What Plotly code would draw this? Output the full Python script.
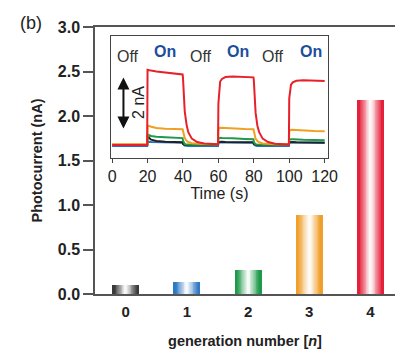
import plotly.graph_objects as go

# ---------------- data ----------------
generations = [0, 1, 2, 3, 4]
gen_labels = ["0", "1", "2", "3", "4"]
photocurrent = [0.10, 0.14, 0.265, 0.885, 2.18]
bar_colors = ["#3a3a3a", "#2f78c4", "#1f9a4a", "#f0a02a", "#e4203a"]

y_ticks = [0.0, 0.5, 1.0, 1.5, 2.0, 2.5, 3.0]

time_s = [0, 19.8, 20, 20.5, 21, 22, 25, 30, 35, 39.8,
          40, 40.5, 41, 42, 43, 45, 48, 52, 59.8,
          60, 60.5, 61, 62, 64, 68, 75, 79.8,
          80, 80.5, 81, 82, 83, 85, 88, 92, 99.8,
          100, 100.5, 101, 102, 104, 108, 114, 120]

i_red = [0, 0, 2.9, 2.89, 2.88, 2.87, 2.84, 2.8, 2.76, 2.72,
         2.6, 1.9, 1.3, 0.8, 0.5, 0.25, 0.12, 0.06, 0.03,
         1.6, 2.2, 2.45, 2.55, 2.62, 2.64, 2.63, 2.61,
         2.5, 1.8, 1.25, 0.75, 0.5, 0.25, 0.12, 0.05, 0.02,
         1.8, 2.2, 2.33, 2.42, 2.48, 2.5, 2.49, 2.47]
i_orange = [0.03, 0.03, 0.75, 0.76, 0.74, 0.71, 0.66, 0.63, 0.62, 0.61,
            0.55, 0.38, 0.27, 0.17, 0.12, 0.07, 0.05, 0.04, 0.03,
            0.6, 0.66, 0.67, 0.67, 0.66, 0.64, 0.62, 0.61,
            0.52, 0.36, 0.25, 0.16, 0.11, 0.06, 0.04, 0.03, 0.03,
            0.52, 0.58, 0.59, 0.59, 0.58, 0.56, 0.54, 0.53]
i_green = [0.01, 0.01, 0.42, 0.41, 0.38, 0.35, 0.32, 0.3, 0.28, 0.27,
           0.18, 0.08, 0.04, 0.02, 0.01, 0.01, 0.01, 0.01, 0.01,
           0.25, 0.28, 0.28, 0.27, 0.27, 0.26, 0.24, 0.23,
           0.12, 0.05, 0.03, 0.02, 0.01, 0.01, 0.01, 0.01, 0.01,
           0.2, 0.23, 0.23, 0.23, 0.22, 0.21, 0.2, 0.19]
i_black = [0.0, 0.0, 0.4, 0.33, 0.27, 0.21, 0.16, 0.13, 0.12, 0.11,
           0.05, 0.02, 0.01, 0.0, 0.0, 0.0, 0.0, 0.0, 0.0,
           0.12, 0.13, 0.13, 0.13, 0.12, 0.12, 0.11, 0.11,
           0.05, 0.02, 0.01, 0.0, 0.0, 0.0, 0.0, 0.0, 0.0,
           0.11, 0.12, 0.12, 0.12, 0.11, 0.11, 0.1, 0.1]
i_blue = [-0.03, -0.03, 0.12, 0.13, 0.13, 0.12, 0.12, 0.11, 0.1, 0.09,
          0.04, 0.0, -0.02, -0.03, -0.03, -0.03, -0.03, -0.03, -0.03,
          0.1, 0.11, 0.11, 0.11, 0.1, 0.1, 0.09, 0.09,
          0.03, -0.01, -0.02, -0.03, -0.03, -0.03, -0.03, -0.03, -0.03,
          0.1, 0.11, 0.11, 0.1, 0.1, 0.09, 0.09, 0.08]

on_intervals = [(20, 40), (60, 80), (100, 120)]
off_label_x = [9, 50, 91]
on_label_x = [30, 71, 112]
inset_ticks = [0, 20, 40, 60, 80, 100, 120]

FONT = "Liberation Sans, Arial, Helvetica, sans-serif"


def mix(hex_color, f):
    h = hex_color.lstrip("#")
    r, g, b = int(h[0:2], 16), int(h[2:4], 16), int(h[4:6], 16)
    r = round(r + (255 - r) * f)
    g = round(g + (255 - g) * f)
    b = round(b + (255 - b) * f)
    return f"rgb({r},{g},{b})"


fig = go.Figure()

# ---- gradient bars: overlaid bars of decreasing width, lighter toward centre
N = 16
BW = 0.44
for k in range(N):
    frac = k / (N - 1)
    f = min(1.0, max(0.0, (frac - 0.15) / 0.8)) * 0.96
    fig.add_trace(go.Bar(
        x=generations, y=photocurrent,
        width=BW * (1 - 0.95 * frac),
        marker=dict(color=[mix(c, f) for c in bar_colors],
                    line=dict(width=0)),
        showlegend=False, hoverinfo="skip",
        xaxis="x", yaxis="y",
    ))

# ---- inset traces
for ys, col in [(i_blue, "#2a6fc0"), (i_black, "#222222"), (i_green, "#1f9a4a"),
                (i_orange, "#f0a020"), (i_red, "#e8202a")]:
    fig.add_trace(go.Scatter(x=time_s, y=ys, mode="lines",
                             line=dict(color=col, width=2),
                             showlegend=False, hoverinfo="skip",
                             xaxis="x2", yaxis="y2"))

shapes = []
for a, b in on_intervals:
    shapes.append(dict(type="rect", xref="x2", yref="y2 domain",
                       x0=a, x1=b, y0=0, y1=1, layer="below",
                       fillcolor="#fff7d9", line=dict(width=0)))

annotations = [
    dict(text="(b)", xref="paper", yref="paper", x=-0.215, y=1.014,
         xanchor="center", yanchor="middle", showarrow=False,
         font=dict(family=FONT, size=18, color="#222")),
]
for x in off_label_x:
    annotations.append(dict(text="Off", xref="x2", yref="y2", x=x, y=3.4,
                            showarrow=False,
                            font=dict(family=FONT, size=16, color="#333")))
for x in on_label_x:
    annotations.append(dict(text="<b>On</b>", xref="x2", yref="y2", x=x, y=3.62,
                            showarrow=False,
                            font=dict(family=FONT, size=16, color="#1b4f9c")))
# double-headed 2 nA scale arrow
annotations.append(dict(x=6.4, y=2.6, ax=6.4, ay=0.58, xref="x2", yref="y2",
                        axref="x2", ayref="y2", text="", showarrow=True,
                        arrowhead=2, startarrowhead=2, arrowside="end+start",
                        arrowsize=1.2, arrowwidth=2, arrowcolor="#111"))
annotations.append(dict(text="2 nA", xref="x2", yref="y2", x=15.0, y=1.65,
                        textangle=-90, showarrow=False,
                        font=dict(family=FONT, size=16, color="#222")))

fig.update_layout(
    width=398, height=341,
    margin=dict(l=87, r=0, t=19, b=55, pad=0),
    paper_bgcolor="white", plot_bgcolor="white",
    barmode="overlay", bargap=0,
    font=dict(family=FONT, color="#222"),
    shapes=shapes, annotations=annotations,
    xaxis=dict(domain=[0, 1], range=[-0.5, 4.4], tickvals=generations,
               ticktext=gen_labels, ticks="outside", ticklen=3,
               tickcolor="rgba(0,0,0,0)", showgrid=False, zeroline=False,
               showline=True, linecolor="#555", linewidth=1.5, mirror=True,
               tickfont=dict(family=FONT, size=15, weight="bold", color="#222"),
               title=dict(text="<b>generation number [<i>n</i>]</b>",
                          font=dict(family=FONT, size=14.5, color="#222"),
                          standoff=17)),
    yaxis=dict(domain=[0, 1], range=[0, 3], tickvals=y_ticks, tickformat=".1f",
               ticks="outside", ticklen=10, tickcolor="#555", tickwidth=1.5,
               showgrid=False, zeroline=False, showline=True, linecolor="#555",
               linewidth=1.5,
               tickfont=dict(family=FONT, size=16, weight="bold", color="#222"),
               title=dict(text="<b>Photocurrent (nA)</b>",
                          font=dict(family=FONT, size=14.5, color="#222"),
                          standoff=12)),
    xaxis2=dict(domain=[0.0547, 0.775], anchor="y2", range=[-0.4, 121.6],
                tickvals=inset_ticks, ticks="outside", ticklen=4,
                tickcolor="#444", showgrid=False, zeroline=False,
                showline=True, mirror=True, linecolor="#444", linewidth=1.2,
                tickfont=dict(family=FONT, size=16, color="#222"),
                title=dict(text="Time (s)", font=dict(family=FONT, size=16,
                                                     color="#222"),
                           standoff=0)),
    yaxis2=dict(domain=[0.509, 0.966], anchor="x2", range=[-0.5, 4.2],
                showticklabels=False, ticks="", showgrid=False,
                zeroline=False, showline=True, mirror=True,
                linecolor="#444", linewidth=1.2),
)

fig.write_html("out.html")
